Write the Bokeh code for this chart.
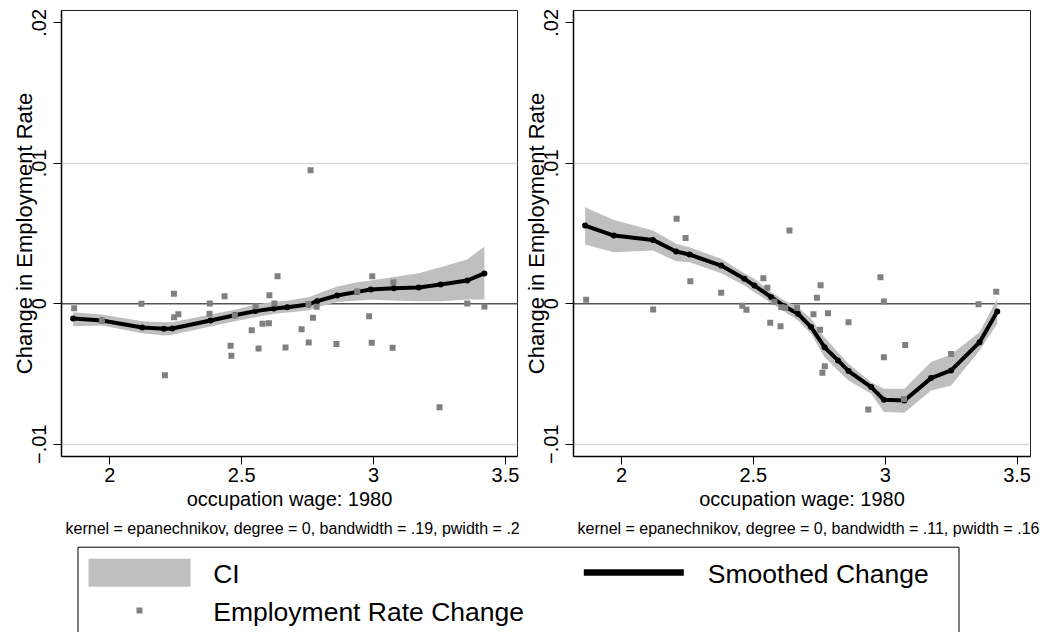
from bokeh.plotting import figure
from bokeh.layouts import column, row
from bokeh.models import Range1d, FixedTicker, Span, Title
from bokeh.core.properties import value
from bokeh.embed import file_html
from bokeh.resources import INLINE

FONT = "Liberation Sans"

# ---- left panel: occupations, raw change and smoothed change ----
left_wage = [1.865, 1.970, 2.120, 2.209, 2.243, 2.244, 2.260, 2.379, 2.378, 2.435,
             2.458, 2.461, 2.474, 2.538, 2.553, 2.564, 2.579, 2.603, 2.605, 2.624,
             2.636, 2.666, 2.727, 2.753, 2.754, 2.761, 2.770, 2.784, 2.859, 2.938,
             2.983, 2.995, 2.993, 3.072, 3.075, 3.250, 3.355, 3.420]
left_change = [-0.00031, -0.00121, 0.0, -0.00508, 0.00071, -0.00095, -0.00074, 0.00002,
               -0.00071, 0.00054, -0.00299, -0.0037, -0.00083, -0.00188, -0.00017,
               -0.00318, -0.00142, -0.00138, 0.00061, 0.00002, 0.00197, -0.00311,
               -0.00181, -0.00003, -0.00275, 0.00951, -0.0010, -0.00021, -0.00287,
               0.00088, -0.00088, 0.00197, -0.00278, -0.00313, 0.00154, -0.00736,
               0.00002, -0.00019]
left_grid = [1.861, 1.970, 2.123, 2.205, 2.237, 2.382, 2.474, 2.552, 2.622, 2.673,
             2.753, 2.786, 2.862, 2.938, 2.989, 3.077, 3.171, 3.254, 3.355, 3.420]
left_smooth = [-0.00105, -0.00119, -0.00169, -0.00178, -0.00176, -0.00119, -0.00081,
               -0.00052, -0.00033, -0.00024, -0.00005, 0.00019, 0.00059, 0.00085,
               0.00102, 0.00111, 0.00116, 0.00137, 0.00166, 0.00216]
left_ci_lo = [-0.00159, -0.00154, -0.00209, -0.00226, -0.00220, -0.00161, -0.00124,
              -0.00095, -0.00071, -0.00062, -0.00048, -0.00025, 0.00012, 0.00024,
              0.00028, 0.00024, 0.00019, 0.00019, 0.00031, 0.00031]
left_ci_hi = [-0.00060, -0.00076, -0.00124, -0.00131, -0.00131, -0.00076, -0.00043,
              -0.00005, 0.00015, 0.00022, 0.00047, 0.00070, 0.00123, 0.00154,
              0.00166, 0.00190, 0.00218, 0.00261, 0.00315, 0.00408]
left_note = "kernel = epanechnikov, degree = 0, bandwidth = .19, pwidth = .2"

# ---- right panel ----
right_wage = [1.866, 2.120, 2.209, 2.243, 2.261, 2.378, 2.458, 2.474, 2.538, 2.553,
              2.564, 2.580, 2.603, 2.606, 2.621, 2.637, 2.666, 2.728, 2.741, 2.755,
              2.753, 2.771, 2.762, 2.783, 2.861, 2.936, 2.982, 2.995, 2.995, 3.076,
              3.071, 3.250, 3.354, 3.421]
right_change = [0.00028, -0.00041, 0.00605, 0.00469, 0.00161, 0.00078, -0.00014,
                -0.00043, 0.00182, 0.00114, -0.00135, 0.00014, -0.00159, -0.00024,
                -0.00028, 0.00521, -0.00028, -0.00074, 0.00043, 0.00132, -0.00185,
                -0.00444, -0.00491, -0.00067, -0.00131, -0.00752, 0.00189, 0.00016,
                -0.0038, -0.00294, -0.00678, -0.00358, -0.00003, 0.00085]
right_grid = [1.862, 1.971, 2.119, 2.207, 2.258, 2.378, 2.466, 2.504, 2.568, 2.618,
              2.669, 2.719, 2.770, 2.821, 2.861, 2.947, 2.995, 3.073, 3.174, 3.250,
              3.358, 3.425]
right_smooth = [0.00557, 0.00486, 0.00455, 0.00372, 0.00351, 0.00272, 0.00178, 0.0013,
                0.00047, -0.00017, -0.00071, -0.00166, -0.00309, -0.00403, -0.00479,
                -0.00593, -0.00683, -0.00688, -0.00529, -0.00474, -0.00273, -0.00055]
right_ci_lo = [0.00422, 0.00367, 0.00379, 0.00303, 0.00296, 0.00218, 0.0013, 0.00083,
               0.00004, -0.00055, -0.00119, -0.00213, -0.0038, -0.00474, -0.00546,
               -0.0064, -0.00771, -0.00776, -0.00617, -0.00581, -0.00332, -0.00142]
right_ci_hi = [0.00687, 0.00597, 0.00521, 0.00427, 0.00403, 0.0032, 0.00218, 0.00178,
               0.00083, 0.00023, -0.00024, -0.00107, -0.00238, -0.00344, -0.00427,
               -0.00558, -0.00605, -0.00605, -0.00415, -0.00361, -0.00202, 0.00036]
right_note = "kernel = epanechnikov, degree = 0, bandwidth = .11, pwidth = .16"

# ---- axes ----
x_ticks = [2, 2.5, 3, 3.5]
x_tick_labels = ["2", "2.5", "3", "3.5"]
y_ticks = [-0.01, 0, 0.01, 0.02]
y_tick_labels = ["\u2212.01", "0", ".01", ".02"]
y_grid = [-0.01, 0.01]
x_title = "occupation wage: 1980"
y_title = "Change in Employment Rate"

legend_labels = ["CI", "Smoothed Change", "Employment Rate Change"]

CI_GRAY = "#BFBFBF"
DOT_GRAY = "#808080"


def panel(wage, change, grid, smooth, lo, hi, note, xr, frame_w, b_left, b_right):
    p = figure(frame_width=frame_w, frame_height=446,
               min_border_left=b_left, min_border_right=b_right,
               min_border_top=10, min_border_bottom=84,
               x_range=Range1d(*xr), y_range=Range1d(-0.01087, 0.02088),
               output_backend="svg", toolbar_location=None,
               background_fill_color="white", border_fill_color="white")
    p.outline_line_color = "#222222"
    p.outline_line_width = 1

    p.xgrid.visible = False
    p.ygrid.ticker = FixedTicker(ticks=y_grid)
    p.ygrid.grid_line_color = "#DADADA"
    p.ygrid.grid_line_width = 1.3

    p.add_layout(Span(location=0, dimension="width", line_color="#555555",
                      line_width=1.5, level="underlay"))

    p.varea(x=grid, y1=lo, y2=hi, fill_color=CI_GRAY, fill_alpha=1)
    p.line(grid, smooth, line_color="black", line_width=4, line_join="round")
    p.scatter(grid, smooth, marker="circle", size=6, fill_color="black", line_color=None)
    p.scatter(wage, change, marker="square", size=6, fill_color=DOT_GRAY, line_color=None)

    for ax in (p.xaxis[0], p.yaxis[0]):
        ax.major_tick_out = 8
        ax.major_tick_in = 0
        ax.minor_tick_out = 0
        ax.minor_tick_in = 0
        ax.axis_line_width = 1.5
        ax.axis_line_color = "black"
        ax.major_tick_line_color = "black"
        ax.major_label_text_font = FONT
        ax.major_label_text_font_size = "20px"
        ax.major_label_text_color = "black"
        ax.axis_label_text_font = FONT
        ax.axis_label_text_font_style = "normal"
        ax.axis_label_text_color = "black"

    xa = p.xaxis[0]
    xa.ticker = FixedTicker(ticks=x_ticks)
    xa.major_label_overrides = dict(zip(x_ticks, x_tick_labels))
    xa.major_label_standoff = 3
    xa.axis_label = x_title
    xa.axis_label_text_font_size = "20px"
    xa.axis_label_standoff = 3

    ya = p.yaxis[0]
    ya.ticker = FixedTicker(ticks=y_ticks)
    ya.major_label_overrides = dict(zip(y_ticks, y_tick_labels))
    ya.major_label_orientation = "vertical"
    ya.major_label_standoff = 7
    ya.axis_label = y_title
    ya.axis_label_text_font_size = "22px"
    ya.axis_label_standoff = -7

    p.add_layout(Title(text=note, align="left", offset=4, standoff=10,
                       text_font=FONT, text_font_size="16px",
                       text_font_style="normal", text_color="black"), "below")
    return p


p_left = panel(left_wage, left_change, left_grid, left_smooth, left_ci_lo, left_ci_hi,
               left_note, (1.817, 3.5455), 456, 61, 3)
p_right = panel(right_wage, right_change, right_grid, right_smooth, right_ci_lo, right_ci_hi,
                right_note, (1.818, 3.551), 457, 53, 17)

# ---- shared legend strip (pixel coordinates, y measured downward) ----
leg = figure(width=1047, height=92, min_border=0,
             x_range=Range1d(0, 1047), y_range=Range1d(92, 0),
             x_axis_type=None, y_axis_type=None,
             output_backend="svg", toolbar_location=None,
             background_fill_color="white", border_fill_color="white")
leg.grid.visible = False
leg.outline_line_color = None

leg.quad(left=[77.5], right=[958.5], top=[5.7], bottom=[97],
         fill_color="white", line_color="black", line_width=1)
leg.quad(left=[88], right=[190], top=[17.3], bottom=[45.3],
         fill_color=CI_GRAY, line_color=None)
leg.line([583.3, 683.3], [31, 31], line_color="black", line_width=6.5)
leg.scatter([139], [69], marker="square", size=6, fill_color=DOT_GRAY, line_color=None)
leg.text(x=[212.7, 707.3, 212.7], y=[32.5, 32.5, 70], text=legend_labels,
         text_font=value(FONT), text_font_size=value("26.5px"),
         text_baseline="middle", text_align="left", text_color="black")

layout = column(row(p_left, p_right, spacing=0), leg, spacing=0)

open("out.html", "w").write(file_html(layout, INLINE))
